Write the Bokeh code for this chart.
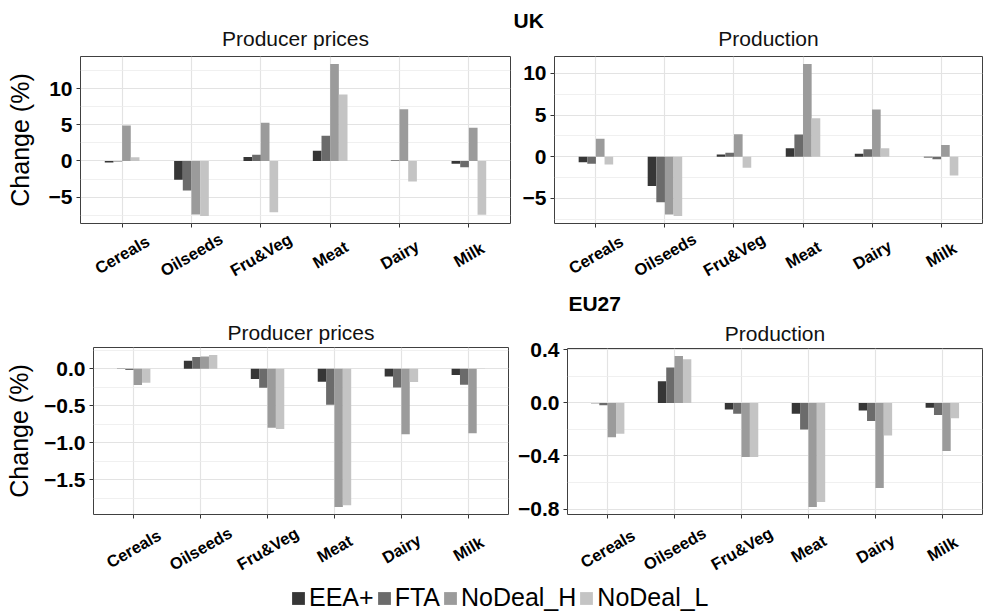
import numpy as np
from bokeh.plotting import figure
from bokeh.models import (FactorRange, Range1d, FixedTicker, ColumnDataSource,
                          Label, Legend, LegendItem, CustomJSTickFormatter)
from bokeh.transform import dodge
from bokeh.layouts import column, row
from bokeh.embed import file_html
from bokeh.resources import INLINE
from bokeh.core.properties import value

# ---------------- data ----------------
categories = ["Cereals", "Oilseeds", "Fru&Veg", "Meat", "Dairy", "Milk"]
scenarios = ["EEA+", "FTA", "NoDeal_H", "NoDeal_L"]
colors = ["#363636", "#6b6b6b", "#9b9b9b", "#c4c4c4"]

# UK producer prices (% change)
uk_price_eea = [-0.2, -2.6, 0.55, 1.4, -0.02, -0.37]
uk_price_fta = [-0.08, -4.1, 0.85, 3.5, 0.1, -0.87]
uk_price_ndh = [4.9, -7.4, 5.3, 13.4, 7.15, 4.6]
uk_price_ndl = [0.5, -7.6, -7.1, 9.2, -2.85, -7.45]

# UK production (% change)
uk_prod_eea = [-0.64, -3.5, 0.28, 1.04, 0.36, -0.08]
uk_prod_fta = [-0.84, -5.46, 0.48, 2.67, 0.92, -0.28]
uk_prod_ndh = [2.15, -6.93, 2.71, 11.12, 5.66, 1.43]
uk_prod_ndl = [-0.92, -7.09, -1.31, 4.62, 1.04, -2.23]

# EU27 producer prices (% change)
eu_price_eea = [-0.003, 0.108, -0.14, -0.176, -0.104, -0.086]
eu_price_fta = [-0.018, 0.158, -0.257, -0.486, -0.252, -0.216]
eu_price_ndh = [-0.22, 0.167, -0.80, -1.87, -0.887, -0.874]
eu_price_ndl = [-0.19, 0.185, -0.815, -1.847, -0.18, -0.004]

# EU27 production (% change)
eu_prod_eea = [-0.003, 0.164, -0.05, -0.082, -0.057, -0.037]
eu_prod_fta = [-0.017, 0.266, -0.082, -0.2, -0.137, -0.092]
eu_prod_ndh = [-0.259, 0.353, -0.408, -0.784, -0.642, -0.363]
eu_prod_ndl = [-0.232, 0.329, -0.408, -0.747, -0.246, -0.115]

# tick values
uk_ticks = [-5, 0, 5, 10]
uk_minor = [-7.5, -2.5, 2.5, 7.5, 12.5]
eu_price_ticks = [-1.5, -1.0, -0.5, 0.0]
eu_price_minor = [-1.75, -1.25, -0.75, -0.25, 0.25]
eu_prod_ticks = [-0.8, -0.4, 0.0, 0.4]
eu_prod_minor = [-0.6, -0.2, 0.2]

# ---------------- layout constants ----------------
FONT = "Liberation Sans"
W = 986
LW, RW = 514, 472            # left / right column widths
FH = 167                     # frame height
offsets = [-0.1875, -0.0625, 0.0625, 0.1875]
XPAD = 0.1


def fmt(v, dec):
    s = f"{v:.1f}" if dec else f"{v:g}"
    return s.replace("-", "\u2212")


def make_panel(series, ticks, minor, dec, width, left, right, top, bottom,
               ylabel=None, title=None, label_standoff=10):
    allv = [v for s in series for v in s] + [0]
    lo, hi = min(allv), max(allv)
    pad = 0.05 * (hi - lo)
    p = figure(x_range=FactorRange(factors=categories, range_padding=XPAD,
                                   range_padding_units="absolute"),
               y_range=Range1d(lo - pad, hi + pad),
               width=width, height=top + FH + bottom,
               min_border_left=left, min_border_right=right,
               min_border_top=top, min_border_bottom=bottom,
               output_backend="svg", toolbar_location=None, title=title)
    if title:
        p.title.text_font = FONT
        p.title.text_font_size = "21px"
        p.title.text_font_style = "normal"
        p.title.align = "center"
        p.title.text_color = "#111111"
        p.title.standoff = 8
    src = ColumnDataSource(dict(cat=categories, s0=series[0], s1=series[1],
                                s2=series[2], s3=series[3]))
    for i in range(4):
        p.vbar(x=dodge("cat", offsets[i], range=p.x_range), top=f"s{i}",
               bottom=0, width=0.125, source=src,
               fill_color=colors[i], line_color=None)

    p.outline_line_color = "#404040"
    p.outline_line_width = 1

    p.ygrid.ticker = FixedTicker(ticks=ticks, minor_ticks=minor)
    p.yaxis.ticker = FixedTicker(ticks=ticks)
    p.yaxis.major_label_overrides = {t: fmt(t, dec) for t in ticks}
    p.ygrid.grid_line_color = "#e3e3e3"
    p.ygrid.grid_line_width = 1.2
    p.ygrid.minor_grid_line_color = "#ececec"
    p.ygrid.minor_grid_line_width = 0.8
    p.xgrid.grid_line_color = "#e3e3e3"
    p.xgrid.grid_line_width = 1.2

    for ax in (p.xaxis, p.yaxis):
        ax.axis_line_color = None
        ax.major_tick_line_color = "#333333"
        ax.major_tick_out = 4
        ax.major_tick_in = 0
        ax.minor_tick_line_color = None
    p.yaxis.major_label_text_font = FONT
    p.yaxis.major_label_text_font_size = "21px"
    p.yaxis.major_label_text_font_style = "bold"
    p.yaxis.major_label_text_color = "#000000"
    p.yaxis.major_label_standoff = 4
    p.xaxis.formatter = CustomJSTickFormatter(code="return ''")
    p.xaxis.major_label_text_font_size = "1px"
    p.xaxis.major_label_standoff = 0
    if ylabel:
        p.yaxis.axis_label = ylabel
        p.yaxis.axis_label_text_font = FONT
        p.yaxis.axis_label_text_font_size = "25px"
        p.yaxis.axis_label_text_font_style = "normal"
        p.yaxis.axis_label_text_color = "#000000"
        p.yaxis.axis_label_standoff = label_standoff
    return p, src


def make_strip(panel, src, width, left, right, height, center_px):
    s = figure(x_range=panel.x_range, y_range=Range1d(-height, 0),
               width=width, height=height, x_axis_type=None, y_axis_type=None,
               min_border_left=left, min_border_right=right,
               min_border_top=0, min_border_bottom=0,
               output_backend="svg", toolbar_location=None)
    s.grid.visible = False
    s.outline_line_color = None
    s.text(x="cat", y=-center_px, text="cat", source=src, angle=30,
           angle_units="deg", text_align="center", text_baseline="middle",
           text_font=value(FONT), text_font_size="16.5px",
           text_font_style="bold", text_color="#000000")
    return s


def make_header(width, height, labels):
    h = figure(x_range=Range1d(0, width), y_range=Range1d(-height, 0),
               width=width, height=height, x_axis_type=None, y_axis_type=None,
               min_border=0, output_backend="svg", toolbar_location=None)
    h.grid.visible = False
    h.outline_line_color = None
    for (txt, x, base, bold, align) in labels:
        h.add_layout(Label(x=x, y=-base, text=txt, text_font=FONT,
                           text_font_size="21px",
                           text_font_style="bold" if bold else "normal",
                           text_color="#000000" if bold else "#111111",
                           text_baseline="alphabetic", text_align=align))
    return h


# panel geometry (left border, right border) for each column
TL_B, TR_B = (80, 4), (40, 4)
BL_B, BR_B = (93, 6), (53, 4)


def frame_center(col_x, width, b):
    return col_x + b[0] + (width - b[0] - b[1]) / 2


# ---- top row (UK) ----
tl, tl_src = make_panel([uk_price_eea, uk_price_fta, uk_price_ndh, uk_price_ndl],
                        uk_ticks, uk_minor, False, LW, *TL_B, 4, 6,
                        ylabel="Change (%)", label_standoff=12)
tr, tr_src = make_panel([uk_prod_eea, uk_prod_fta, uk_prod_ndh, uk_prod_ndl],
                        uk_ticks, uk_minor, False, RW, *TR_B, 4, 6)
tl_s = make_strip(tl, tl_src, LW, *TL_B, 61, 25)
tr_s = make_strip(tr, tr_src, RW, *TR_B, 61, 25)
head_top = make_header(W, 52, [
    ("UK", LW - 1, 20, True, "left"),
    ("Producer prices", frame_center(0, LW, TL_B), 38, False, "center"),
    ("Production", frame_center(LW, RW, TR_B), 38, False, "center"),
])

# ---- bottom row (EU27) ----
bl, bl_src = make_panel([eu_price_eea, eu_price_fta, eu_price_ndh, eu_price_ndl],
                        eu_price_ticks, eu_price_minor, True, LW, *BL_B, 57, 6,
                        ylabel="Change (%)", title="Producer prices",
                        label_standoff=8)
br, br_src = make_panel([eu_prod_eea, eu_prod_fta, eu_prod_ndh, eu_prod_ndl],
                        eu_prod_ticks, eu_prod_minor, True, RW, *BR_B, 32, 6,
                        title="Production")
bl_s = make_strip(bl, bl_src, LW, *BL_B, 52, 28)
br_s = make_strip(br, br_src, RW, *BR_B, 52, 28)
head_br = make_header(RW, 25, [("EU27", 1, 13, True, "left")])

# ---- legend strip ----
lf = figure(width=W, height=40, x_range=FactorRange(factors=scenarios),
            y_range=Range1d(0, 1), x_axis_type=None, y_axis_type=None,
            min_border=0, output_backend="svg", toolbar_location=None)
lf.grid.visible = False
lf.outline_line_color = None
items = []
for i, sc in enumerate(scenarios):
    r = lf.vbar(x=[sc], top=[0], bottom=[0], width=0.1,
                fill_color=colors[i], line_color=None)
    items.append(LegendItem(label=sc, renderers=[r]))
leg = Legend(items=items, orientation="horizontal", location=(290, 0),
             glyph_width=16, glyph_height=16, label_standoff=3, spacing=2,
             padding=0, margin=0, border_line_color=None,
             background_fill_alpha=0, label_text_font=FONT,
             label_text_font_size="25px", label_height=16,
             label_text_color="#000000")
lf.add_layout(leg)

layout = column(head_top,
                row(column(tl, tl_s), column(tr, tr_s)),
                row(column(bl, bl_s), column(head_br, br, br_s)),
                lf)
open("out.html", "w").write(file_html(layout, INLINE))
